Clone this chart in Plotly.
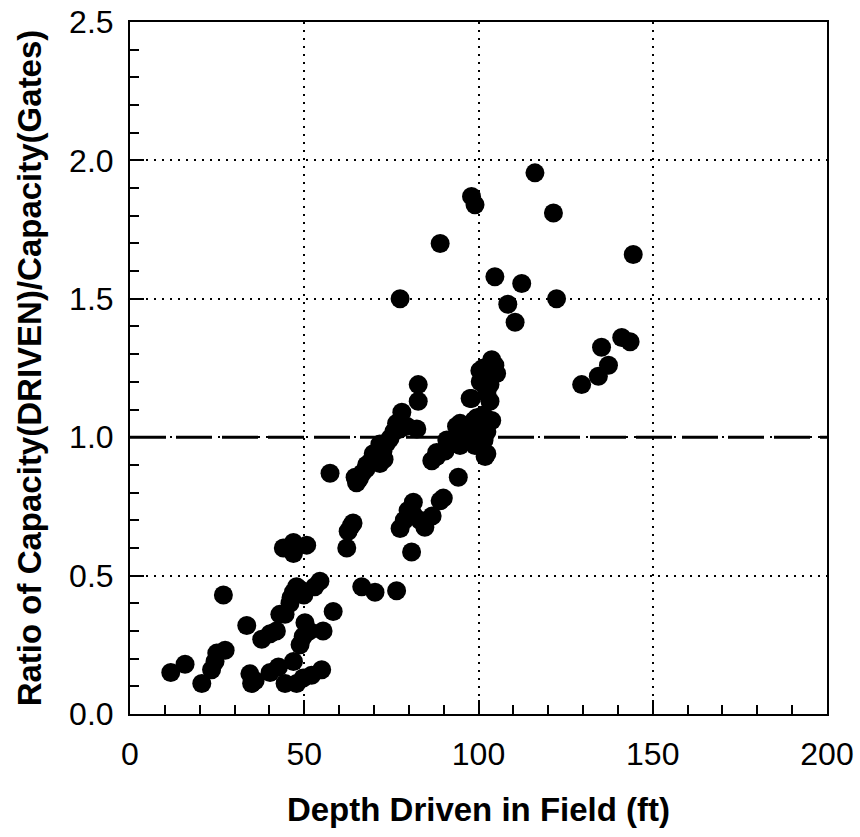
import plotly.graph_objects as go

# Depth driven (ft)
depth = [
    11.7, 15.8, 20.6, 23.4, 24.4, 24.9, 27.3, 26.8, 33.5, 34.4, 34.9, 35.9,
    37.8, 40.2, 42.0, 40.2, 42.6, 44.5, 46.9, 47.8, 49.7, 52.1, 55.0,
    43.0, 44.5, 45.9, 46.9, 47.8, 48.8, 49.9, 46.2, 49.7, 48.8, 50.2, 51.4,
    53.0, 54.5, 55.4, 58.3, 44.0, 46.9, 46.9, 50.7,
    57.4, 62.2, 62.6, 63.5, 64.0, 66.5, 70.3, 76.5,
    64.6, 65.0, 65.8, 66.6, 67.7, 68.9, 69.7, 70.9, 71.7, 72.9, 72.6, 73.7,
    74.6, 75.7, 77.5, 76.5, 78.0, 79.4, 82.3, 82.7, 82.7, 71.7, 69.8, 67.9,
    77.5, 78.7, 79.8, 81.3, 81.3, 83.2, 84.6, 86.7, 89.0, 89.9, 80.8,
    86.6, 88.0, 88.0, 90.4, 90.9, 92.4, 93.3, 93.7, 94.0, 94.7, 94.7, 96.0,
    97.6, 97.6, 98.7, 99.3, 99.5, 100.4, 101.6, 101.9, 102.4, 94.2, 101.4,
    102.4, 103.8, 103.3, 98.0, 97.6, 102.4, 103.3, 100.4, 101.4, 105.2,
    104.7, 103.8, 100.5, 96.5, 99.0,
    116.2, 98.0, 99.0, 121.5, 89.0, 144.4, 104.7, 112.4, 77.5, 122.4, 108.4,
    110.5, 141.1, 143.5, 135.3, 137.3, 134.4, 129.6,
]

# Ratio of Capacity(DRIVEN)/Capacity(Gates)
ratio = [
    0.15, 0.18, 0.11, 0.16, 0.19, 0.22, 0.23, 0.43, 0.32, 0.145, 0.11, 0.12,
    0.27, 0.29, 0.30, 0.15, 0.17, 0.11, 0.19, 0.11, 0.13, 0.14, 0.16,
    0.36, 0.36, 0.40, 0.44, 0.46, 0.45, 0.43, 0.42, 0.28, 0.25, 0.33, 0.30,
    0.46, 0.48, 0.30, 0.37, 0.60, 0.62, 0.58, 0.61,
    0.87, 0.60, 0.66, 0.68, 0.69, 0.46, 0.44, 0.445,
    0.855, 0.835, 0.85, 0.87, 0.885, 0.91, 0.92, 0.945, 0.905, 0.92, 0.95, 0.98,
    0.995, 1.02, 1.03, 1.05, 1.09, 1.04, 1.03, 1.19, 1.13, 0.975, 0.94, 0.90,
    0.67, 0.70, 0.735, 0.765, 0.72, 0.70, 0.675, 0.715, 0.77, 0.78, 0.585,
    0.915, 0.93, 0.945, 0.95, 0.99, 0.99, 0.99, 1.04, 1.01, 0.97, 1.05, 1.02,
    1.04, 0.99, 1.06, 1.02, 1.07, 1.03, 0.99, 0.93, 0.94, 0.855, 1.08,
    1.02, 1.06, 1.13, 1.14, 1.14, 1.16, 1.19, 1.24, 1.25, 1.23,
    1.26, 1.28, 1.20, 1.00, 0.97,
    1.955, 1.87, 1.84, 1.81, 1.70, 1.66, 1.58, 1.555, 1.50, 1.50, 1.48,
    1.415, 1.36, 1.345, 1.325, 1.26, 1.22, 1.19,
]

reference_ratio = 1.0
x_ticks = [0, 50, 100, 150, 200]
y_ticks = [0.0, 0.5, 1.0, 1.5, 2.0, 2.5]

FONT = "Arial, Liberation Sans, Helvetica, sans-serif"

fig = go.Figure()
fig.add_trace(go.Scatter(
    x=depth, y=ratio, mode="markers",
    marker=dict(color="black", size=19, line=dict(width=0)),
    hoverinfo="x+y",
))

fig.add_hline(y=reference_ratio, line=dict(color="black", width=3, dash="36px,10px"))

axis_common = dict(
    showline=True, linecolor="black", linewidth=2, mirror=True,
    ticks="inside", ticklen=14, tickwidth=2, tickcolor="black",
    showgrid=True, gridcolor="black", gridwidth=1.5, griddash="2px,6px",
    zeroline=False,
    tickfont=dict(family=FONT, size=32, color="black"),
)

fig.update_xaxes(
    range=[0, 200], tickvals=x_ticks, ticktext=[str(v) for v in x_ticks],
    minor=dict(dtick=10, ticks="inside", ticklen=9, tickwidth=1.5, tickcolor="black", showgrid=False),
    ticklabelstandoff=11,
    title=dict(text="Depth Driven in Field (ft)", standoff=26,
               font=dict(family=FONT, size=33, color="black", weight="bold")),
    **axis_common,
)
fig.update_yaxes(
    range=[0, 2.5], tickvals=y_ticks, ticktext=[f"{v:.1f}" for v in y_ticks],
    minor=dict(dtick=0.1, ticks="inside", ticklen=9, tickwidth=1.5, tickcolor="black", showgrid=False),
    ticklabelstandoff=8,
    title=dict(text="Ratio of Capacity(DRIVEN)/Capacity(Gates)", standoff=18,
               font=dict(family=FONT, size=33, color="black", weight="bold")),
    **axis_common,
)

fig.update_layout(
    width=860, height=837,
    margin=dict(l=130, r=33, t=22, b=123, autoexpand=False),
    plot_bgcolor="white", paper_bgcolor="white",
    showlegend=False,
    font=dict(family=FONT, color="black"),
)

fig.write_html("out.html")
